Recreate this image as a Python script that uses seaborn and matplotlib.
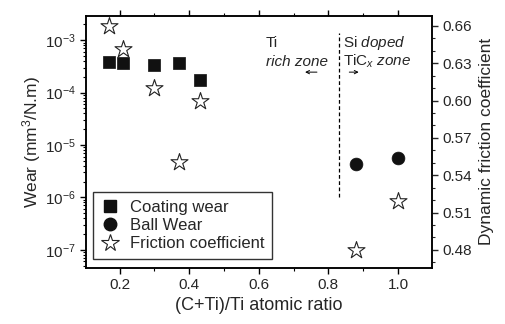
import seaborn as sns
import matplotlib
matplotlib.use("Agg")
import matplotlib.pyplot as plt
from matplotlib.ticker import MultipleLocator, LogLocator, NullFormatter, FormatStrFormatter
from matplotlib.lines import Line2D

# data
ratio_coating = [0.17, 0.21, 0.30, 0.37, 0.43]
coating_wear = [3.8e-4, 3.7e-4, 3.3e-4, 3.6e-4, 1.7e-4]

ratio_ball = [0.88, 1.00]
ball_wear = [4.3e-6, 5.6e-6]

ratio_friction = [0.17, 0.21, 0.30, 0.37, 0.43, 0.88, 1.00]
friction = [0.660, 0.641, 0.610, 0.551, 0.600, 0.480, 0.519]

sns.set_style("ticks")
plt.rcParams['font.family'] = ['Liberation Sans', 'DejaVu Sans']
plt.rcParams['mathtext.fontset'] = 'custom'
plt.rcParams['mathtext.rm'] = 'Liberation Sans'
plt.rcParams['mathtext.it'] = 'Liberation Sans:italic'
plt.rcParams['mathtext.default'] = 'regular'

fig = plt.figure(figsize=(5.05, 3.24), dpi=100)
ax = fig.add_axes([0.170, 0.173, 0.685, 0.778])
ax2 = ax.twinx()

sns.scatterplot(x=ratio_coating, y=coating_wear, ax=ax, marker='s', s=80,
                color='#111111', edgecolor='#111111', linewidth=0.5, zorder=3)
sns.scatterplot(x=ratio_ball, y=ball_wear, ax=ax, marker='o', s=85,
                color='#111111', edgecolor='#111111', linewidth=0.5, zorder=3)
sns.scatterplot(x=ratio_friction, y=friction, ax=ax2, marker='*', s=165,
                facecolor='white', edgecolor='#222222', linewidth=0.8, zorder=3)

ax.set_yscale('log')
ax.set_xlim(0.103, 1.097)
ax.set_ylim(4.5e-8, 2.9e-3)
ax2.set_ylim(0.4655, 0.668)

ax.xaxis.set_major_locator(MultipleLocator(0.2))
ax.xaxis.set_minor_locator(MultipleLocator(0.1))
ax.xaxis.set_major_formatter(FormatStrFormatter('%.1f'))
ax.yaxis.set_major_locator(LogLocator(base=10, numticks=20))
ax.yaxis.set_minor_locator(LogLocator(base=10, subs=range(2, 10), numticks=20))
ax.yaxis.set_minor_formatter(NullFormatter())
ax2.yaxis.set_major_locator(MultipleLocator(0.03))
ax2.yaxis.set_minor_locator(MultipleLocator(0.01))
ax2.yaxis.set_major_formatter(FormatStrFormatter('%.2f'))

ax.tick_params(which='both', direction='out', top=True, labelsize=11, color='black')
ax.tick_params(which='major', length=4, width=1)
ax.tick_params(which='minor', length=2.5, width=0.8)
ax2.tick_params(which='both', direction='out', labelsize=11)
ax2.tick_params(which='major', length=4, width=1)
ax2.tick_params(which='minor', length=2.5, width=0.8)

for a in (ax, ax2):
    for sp in a.spines.values():
        sp.set_visible(True)
        sp.set_linewidth(1.1)
        sp.set_color('black')

ax.set_xlabel('(C+Ti)/Ti atomic ratio', fontsize=13, labelpad=3)
ax.set_ylabel('Wear (mm$^3$/N.m)', fontsize=12.5, labelpad=1)
ax2.set_ylabel('Dynamic friction coefficient', fontsize=12.5, labelpad=5)

# zone separator and annotations
ax.plot([0.831, 0.831], [1.0e-6, 1.35e-3], ls=(0, (3, 2)), color='black', lw=0.9)
ax.text(0.62, 8.7e-4, 'Ti', fontsize=11, va='center', ha='left')
ax.text(0.62, 3.9e-4, 'rich zone', fontsize=11, va='center', ha='left', style='italic')
ax.annotate('', xy=(0.725, 2.45e-4), xytext=(0.775, 2.45e-4),
            arrowprops=dict(arrowstyle='->', lw=0.7, color='black', mutation_scale=6))
ax.text(0.843, 8.7e-4, 'Si $\\mathit{doped}$', fontsize=11, va='center', ha='left')
ax.text(0.843, 3.9e-4, 'TiC$_{\\mathit{x}}$ $\\mathit{zone}$', fontsize=11, va='center', ha='left')
ax.annotate('', xy=(0.895, 2.45e-4), xytext=(0.852, 2.45e-4),
            arrowprops=dict(arrowstyle='->', lw=0.7, color='black', mutation_scale=6))

handles = [
    Line2D([], [], ls='none', marker='s', ms=9, color='#111111', label='Coating wear'),
    Line2D([], [], ls='none', marker='o', ms=9, color='#111111', label='Ball Wear'),
    Line2D([], [], ls='none', marker='*', ms=13, mfc='white', mec='#222222', mew=0.8,
           label='Friction coefficient'),
]
leg = ax2.legend(handles=handles, loc='lower left', bbox_to_anchor=(0.02, 0.036),
                 fontsize=12, frameon=True, fancybox=False, borderpad=0.45,
                 handletextpad=0.6, labelspacing=0.2, handlelength=1.2,
                 borderaxespad=0)
leg.get_frame().set_edgecolor('black')
leg.get_frame().set_linewidth(1.0)

fig.savefig('out.png', dpi=100)
